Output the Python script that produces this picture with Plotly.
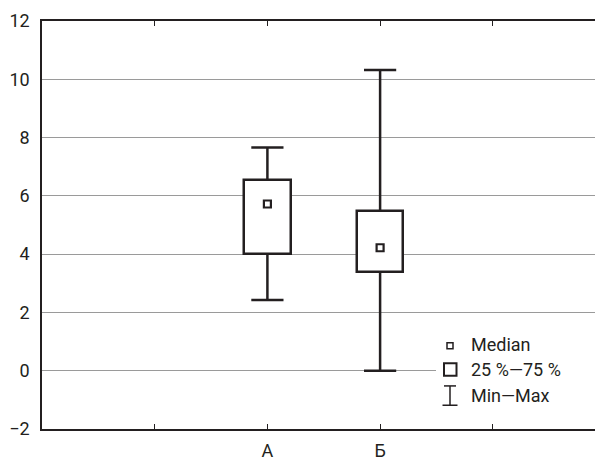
import plotly.graph_objects as go

categories = ["А", "Б"]
positions = [2, 3]
q1 = [4.0, 3.4]
q3 = [6.56, 5.47]
median = [5.72, 4.22]
vmin = [2.43, 0.0]
vmax = [7.66, 10.32]

tick_vals = [1, 2, 3, 4]
tick_text = ["", "А", "Б", ""]
y_ticks = [-2, 0, 2, 4, 6, 8, 10, 12]

legend_labels = ["Median", "25 %—75 %", "Min—Max"]

DARK = "#231f20"
FONT = "Roboto"
W, H = 595, 461
L, R, T, B = 42, 0, 21, 28

fig = go.Figure()

# boxes (q1..q3)
fig.add_trace(go.Bar(
    x=positions, y=[b - a for a, b in zip(q1, q3)], base=q1, width=0.41,
    marker=dict(color="white", line=dict(color=DARK, width=2.5)),
    showlegend=False, hoverinfo="skip"))

# whiskers
wx, wy = [], []
for p, a, b, lo, hi in zip(positions, q1, q3, vmin, vmax):
    wx += [p, p, None, p, p, None]
    wy += [b, hi, None, a, lo, None]
fig.add_trace(go.Scatter(x=wx, y=wy, mode="lines",
                         line=dict(color=DARK, width=2.5),
                         showlegend=False, hoverinfo="skip"))

# caps
fig.add_trace(go.Scatter(
    x=positions + positions, y=vmin + vmax, mode="markers",
    marker=dict(symbol="line-ew", size=23, line=dict(color=DARK, width=2.5)),
    showlegend=False, hoverinfo="skip"))

# medians
fig.add_trace(go.Scatter(
    x=positions, y=median, mode="markers",
    marker=dict(symbol="square", size=7, color="white",
                line=dict(color=DARK, width=2.2)),
    showlegend=False, hoverinfo="skip"))

pw, ph = W - L - R, H - T - B
def px(x):
    return (x - L) / pw
def py(y):
    return (H - B - y) / ph

shapes = [
    dict(type="rect", xref="paper", yref="paper", x0=px(436), x1=px(595),
         y0=py(412), y1=py(336), fillcolor="white", line=dict(width=0), layer="above"),
    dict(type="rect", xref="paper", yref="paper", x0=px(447), x1=px(453),
         y0=py(352), y1=py(346), fillcolor="white", line=dict(color=DARK, width=1.5), layer="above"),
    dict(type="rect", xref="paper", yref="paper", x0=px(444), x1=px(456.5),
         y0=py(379.3), y1=py(366.7), fillcolor="white", line=dict(color=DARK, width=2), layer="above"),
    dict(type="line", xref="paper", yref="paper", x0=px(444), x1=px(456),
         y0=py(389.5), y1=py(389.5), line=dict(color=DARK, width=1.5), layer="above"),
    dict(type="line", xref="paper", yref="paper", x0=px(442.5), x1=px(457.5),
         y0=py(409), y1=py(409), line=dict(color=DARK, width=1.5), layer="above"),
    dict(type="line", xref="paper", yref="paper", x0=px(450), x1=px(450),
         y0=py(389.5), y1=py(409), line=dict(color=DARK, width=1.5), layer="above"),
]
annotations = [
    dict(text=t, xref="paper", yref="paper", x=px(469), y=py(yc), xanchor="left",
         yanchor="middle", showarrow=False, font=dict(family=FONT, size=18, color=DARK))
    for t, yc in zip(legend_labels, [348, 373, 399])
]

fig.update_layout(
    width=W, height=H, margin=dict(l=L, r=R, t=T, b=B),
    paper_bgcolor="white", plot_bgcolor="white",
    font=dict(family=FONT, size=18, color=DARK),
    shapes=shapes, annotations=annotations, showlegend=False,
    xaxis=dict(range=[0, (W - L) / 112.7], tickvals=tick_vals, ticktext=tick_text,
               ticks="inside", ticklen=5, tickcolor=DARK, tickwidth=1.3,
               showline=True, linecolor=DARK, linewidth=1.5, mirror="ticks",
               showgrid=False, zeroline=False, ticklabelstandoff=5),
    yaxis=dict(range=[-2, 12], tickvals=y_ticks, showline=True, linecolor=DARK,
               linewidth=1.5, showgrid=True, gridcolor="#9a9a9a", gridwidth=1,
               zeroline=False, ticks="", ticklabelstandoff=7),
    bargap=0,
)

fig.write_html("out.html", config={"displayModeBar": False},
               post_script="document.body.style.margin='0';document.body.style.padding='0';")
